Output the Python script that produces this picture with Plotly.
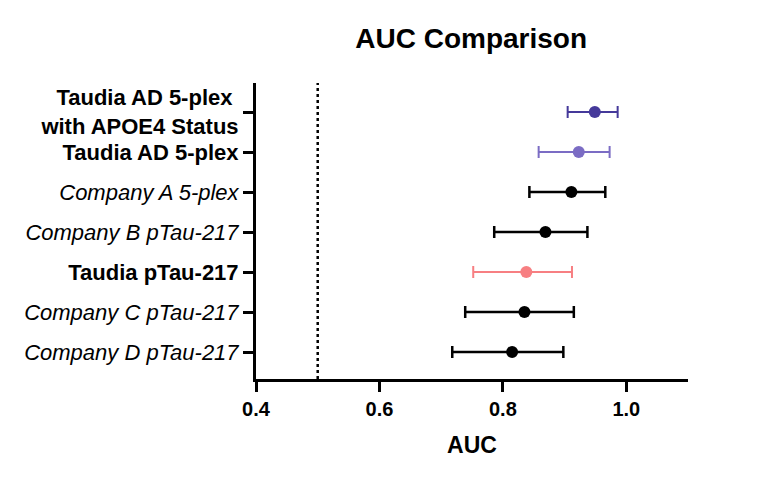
import plotly.graph_objects as go

# rows listed bottom to top
labels = [
    "<i>Company D pTau-217</i>",
    "<i>Company C pTau-217</i>",
    "<b>Taudia pTau-217</b>",
    "<i>Company B pTau-217</i>",
    "<i>Company A 5-plex</i>",
    "<b>Taudia AD 5-plex</b>",
    "<b>Taudia AD 5-plex <br>with APOE4 Status</b>",
]
auc = [0.815, 0.835, 0.838, 0.869, 0.911, 0.923, 0.949]
ci_low = [0.718, 0.739, 0.752, 0.786, 0.843, 0.858, 0.905]
ci_high = [0.898, 0.915, 0.912, 0.937, 0.966, 0.973, 0.986]
colors = ["#000000", "#000000", "#F77F82", "#000000", "#000000", "#7B6CC4", "#45399A"]
chance = 0.5
x_ticks = [0.4, 0.6, 0.8, 1.0]

fig = go.Figure()

for i in range(len(labels)):
    fig.add_trace(
        go.Scatter(
            x=[auc[i]],
            y=[i],
            mode="markers",
            marker=dict(size=12, color=colors[i]),
            error_x=dict(
                type="data",
                symmetric=False,
                array=[ci_high[i] - auc[i]],
                arrayminus=[auc[i] - ci_low[i]],
                color=colors[i],
                thickness=2.5 if colors[i] == "#000000" else 2,
                width=6,
            ),
            showlegend=False,
        )
    )

# chance line
fig.add_shape(
    type="line", x0=chance, x1=chance, y0=0, y1=1,
    xref="x", yref="paper",
    line=dict(color="black", width=2.5, dash="dot"),
)

# page body adds ~8px offset, margins account for it
fig.update_layout(
    width=758, height=480,
    margin=dict(l=248, r=78, t=75, b=109),
    plot_bgcolor="white", paper_bgcolor="white",
    font=dict(family="Liberation Sans, Arial", color="black", size=22),
    title=dict(text="<b>AUC Comparison</b>", x=0.611, xanchor="center",
               y=0.9375, yanchor="middle", font=dict(size=28)),
)

fig.update_xaxes(
    range=[0.4, 1.1],
    tickvals=x_ticks,
    ticktext=["<b>%.1f</b>" % v for v in x_ticks],
    tickfont=dict(size=20),
    showline=True, linecolor="black", linewidth=3,
    ticks="outside", ticklen=10, tickwidth=3, tickcolor="black",
    showgrid=False, zeroline=False,
    title=dict(text="<b>AUC</b>", font=dict(size=23), standoff=18),
)
fig.update_yaxes(
    range=[-0.675, 6.725],
    tickvals=list(range(len(labels))),
    ticktext=labels,
    showline=True, linecolor="black", linewidth=3,
    ticks="outside", ticklen=10, tickwidth=3, tickcolor="black",
    showgrid=False, zeroline=False,
)

fig.write_html("out.html")
